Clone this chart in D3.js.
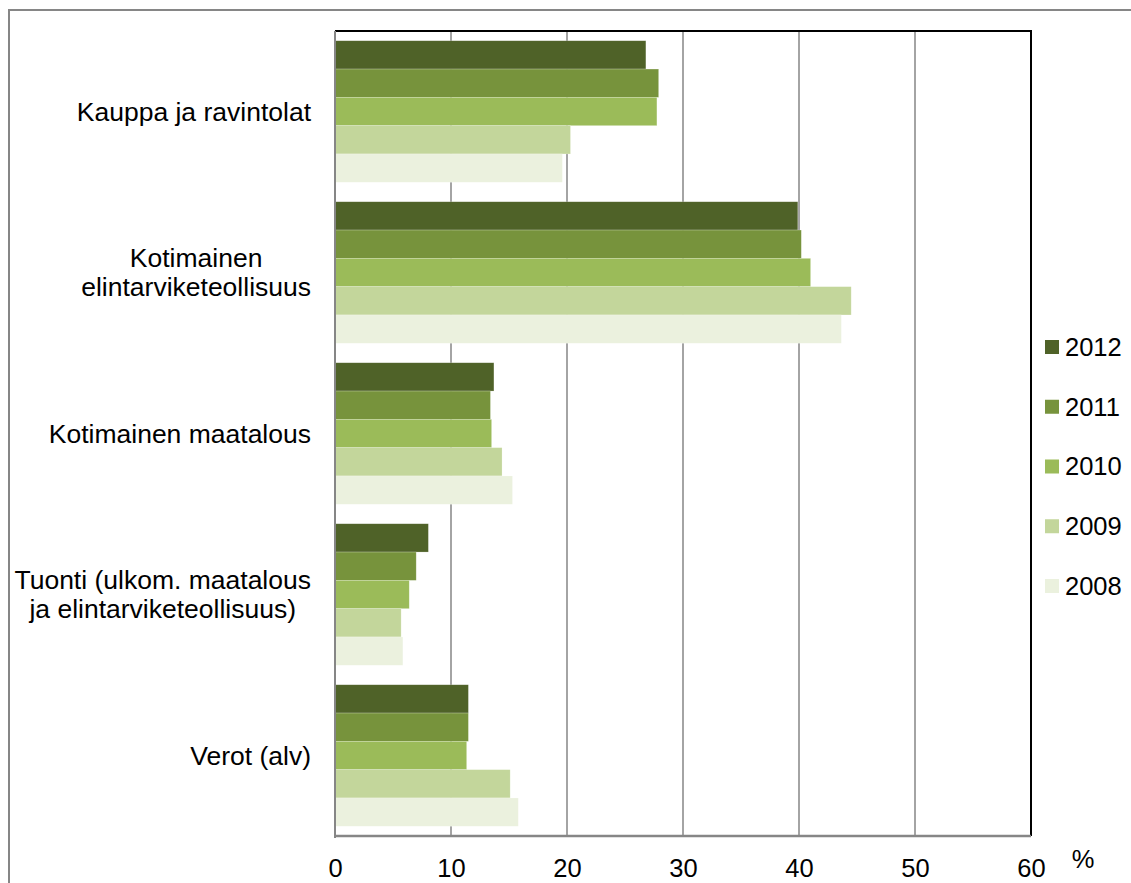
<!DOCTYPE html>
<html>
<head>
<meta charset="utf-8">
<script src="https://cdn.jsdelivr.net/npm/d3@7"></script>
<style>
  html, body { margin: 0; padding: 0; background: #fff; }
  svg { display: block; font-family: "Liberation Sans", Arial, sans-serif; }
</style>
</head>
<body>
<svg id="chart" width="1131" height="883"></svg>
<script>
// ---- data ----
const categories = [
  "Kauppa ja ravintolat",
  "Kotimainen\nelintarviketeollisuus",
  "Kotimainen maatalous",
  "Tuonti (ulkom. maatalous\nja elintarviketeollisuus)",
  "Verot (alv)"
];
const years = ["2012", "2011", "2010", "2009", "2008"];
const values2012 = [26.8, 39.9, 13.7, 8.05, 11.5];
const values2011 = [27.9, 40.2, 13.4, 7.0, 11.5];
const values2010 = [27.75, 41.0, 13.5, 6.4, 11.35];
const values2009 = [20.3, 44.5, 14.4, 5.7, 15.1];
const values2008 = [19.6, 43.65, 15.3, 5.85, 15.8];
const xTicks = [0, 10, 20, 30, 40, 50, 60];
const unitLabel = "%";
const colors = ["#4f6228", "#77933c", "#9bbb59", "#c3d69b", "#ebf1de"];

const seriesValues = [values2012, values2011, values2010, values2009, values2008];
const rows = categories.map((c, i) => ({
  category: c,
  bars: years.map((y, j) => ({ year: y, value: seriesValues[j][i], color: colors[j] }))
}));

// ---- layout ----
const svg = d3.select("#chart");
const plot = { left: 335, right: 1031, top: 31, bottom: 836 };
const fontSize = 25.5;
const labelFontSize = 26.5;

// outer frame
svg.append("rect")
  .attr("x", 9).attr("y", 10).attr("width", 1140).attr("height", 900)
  .attr("fill", "none").attr("stroke", "#868686").attr("stroke-width", 2);

const x = d3.scaleLinear().domain([0, 60]).range([plot.left, plot.right]);
const y0 = d3.scaleBand().domain(categories).range([plot.top, plot.bottom])
  .paddingInner(0.121).paddingOuter(0.0605);
const y1 = d3.scaleBand().domain(years).range([0, y0.bandwidth()]);

// gridlines
svg.append("g").selectAll("line")
  .data(xTicks.filter(t => t > 0 && t < 60))
  .join("line")
  .attr("x1", d => x(d)).attr("x2", d => x(d))
  .attr("y1", plot.top).attr("y2", plot.bottom)
  .attr("stroke", "#868686").attr("stroke-width", 1.5);

// bars
const groups = svg.append("g").selectAll("g")
  .data(rows).join("g")
  .attr("transform", d => `translate(0,${y0(d.category)})`);
groups.selectAll("rect")
  .data(d => d.bars).join("rect")
  .attr("x", x(0))
  .attr("y", d => y1(d.year))
  .attr("width", d => x(d.value) - x(0))
  .attr("height", y1.bandwidth())
  .attr("fill", d => d.color)
  .attr("stroke", "rgba(255,255,255,0.35)")
  .attr("stroke-width", 0.6);

// top and right border (black)
svg.append("path")
  .attr("d", `M${plot.left},${plot.top}H${plot.right}V${plot.bottom}`)
  .attr("fill", "none").attr("stroke", "#000").attr("stroke-width", 2);

// left axis line
svg.append("line")
  .attr("x1", plot.left).attr("x2", plot.left)
  .attr("y1", plot.top).attr("y2", plot.bottom + 2)
  .attr("stroke", "#868686").attr("stroke-width", 2);

// bottom axis
const xAxis = d3.axisBottom(x).tickValues(xTicks).tickSize(0).tickPadding(23)
  .tickFormat(d3.format("d"));
const gx = svg.append("g").attr("transform", `translate(0,${plot.bottom})`).call(xAxis);
gx.select(".domain").attr("stroke", "#868686").attr("stroke-width", 2.5)
  .attr("d", `M${plot.left},0H${plot.right}`);
gx.selectAll("text").attr("font-size", fontSize).attr("fill", "#000")
  .attr("font-family", "Liberation Sans, Arial, sans-serif");

svg.append("text")
  .attr("x", 1083).attr("y", 868)
  .attr("text-anchor", "middle")
  .attr("font-size", fontSize)
  .text(unitLabel);

// category labels
const labelRight = 311;
const lineGap = 29;
const lg = svg.append("g");
rows.forEach(r => {
  const lines = r.category.split("\n");
  const cy = y0(r.category) + y0.bandwidth() / 2;
  const t = lg.append("text").attr("font-size", labelFontSize).attr("text-anchor", "middle");
  const spans = lines.map((ln, i) => t.append("tspan")
    .attr("y", cy + (i - (lines.length - 1) / 2) * lineGap)
    .attr("dy", "0.35em")
    .text(ln));
  const maxW = d3.max(spans, s => s.node().getComputedTextLength());
  spans.forEach(s => s.attr("x", labelRight - maxW / 2));
});

// legend
const legend = svg.append("g");
const legendY = d3.scalePoint().domain(years).range([347, 586]);
years.forEach((yr, j) => {
  legend.append("rect")
    .attr("x", 1045).attr("y", legendY(yr) - 7)
    .attr("width", 14).attr("height", 14)
    .attr("fill", colors[j]);
  legend.append("text")
    .attr("x", 1065).attr("y", legendY(yr))
    .attr("dy", "0.35em")
    .attr("font-size", fontSize)
    .text(yr);
});
</script>
</body>
</html>
